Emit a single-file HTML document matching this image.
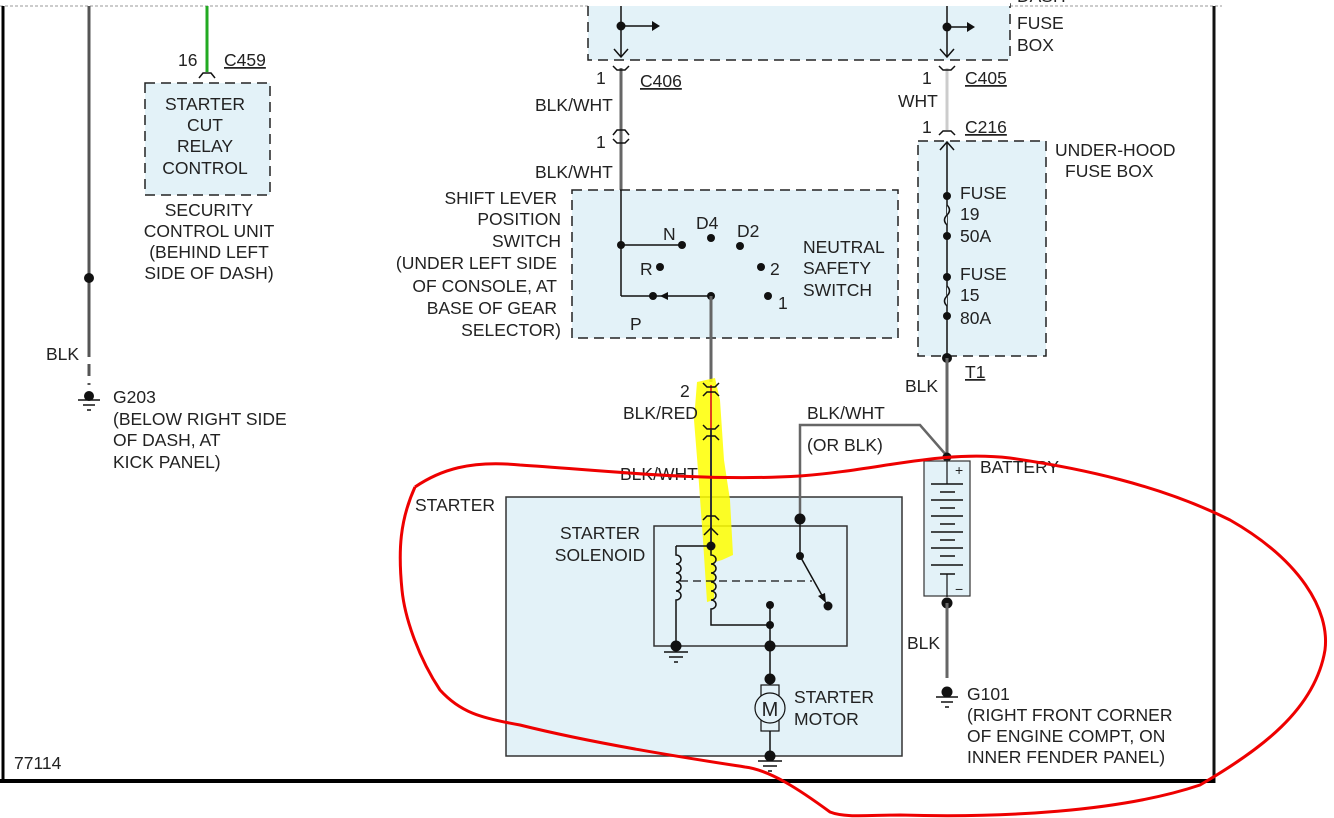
<!DOCTYPE html>
<html><head><meta charset="utf-8"><style>
html,body{margin:0;padding:0;background:#fff;}
svg{display:block;}
text{font-family:"Liberation Sans",sans-serif;font-size:17.5px;fill:#222;}
</style></head><body>
<svg width="1334" height="818" viewBox="0 0 1334 818" xmlns="http://www.w3.org/2000/svg">
<rect width="1334" height="818" fill="#fff"/>
<!-- border -->
<line x1="0" y1="6" x2="1222" y2="6" stroke="#ccc" stroke-width="2" stroke-dasharray="3 2"/>
<line x1="3" y1="6" x2="3" y2="781" stroke="#000" stroke-width="3"/>
<line x1="1214" y1="6" x2="1214" y2="783" stroke="#111" stroke-width="3"/>
<line x1="0" y1="781" x2="1215" y2="781" stroke="#000" stroke-width="4"/>

<!-- left ground wire -->
<line x1="89" y1="6" x2="89" y2="345" stroke="#555" stroke-width="3"/>
<line x1="89" y1="345" x2="89" y2="385" stroke="#555" stroke-width="3" stroke-dasharray="12 7"/>
<circle cx="89" cy="278" r="5" fill="#111"/>
<text x="46" y="360">BLK</text>
<circle cx="89" cy="396" r="5" fill="#111"/>
<line x1="78" y1="400" x2="100" y2="400" stroke="#111" stroke-width="1.5"/>
<line x1="83" y1="405" x2="95" y2="405" stroke="#111" stroke-width="1.5"/>
<line x1="87" y1="410" x2="91" y2="410" stroke="#111" stroke-width="1.5"/>
<text x="113" y="403">G203</text>
<text x="113" y="425">(BELOW RIGHT SIDE</text>
<text x="113" y="446">OF DASH, AT</text>
<text x="113" y="468">KICK PANEL)</text>

<!-- security control unit -->
<line x1="207" y1="6" x2="207" y2="72" stroke="#2a2" stroke-width="3"/>
<path d="M199 78 L203 73 L211 73 L215 78" fill="none" stroke="#111" stroke-width="1.5"/>
<text x="178" y="66">16</text>
<text x="224" y="66" text-decoration="underline">C459</text>
<rect x="145" y="83" width="125" height="112" fill="#e3f2f8" stroke="#222" stroke-width="1.5" stroke-dasharray="10 6"/>
<text x="205" y="110" text-anchor="middle">STARTER</text>
<text x="205" y="131" text-anchor="middle">CUT</text>
<text x="205" y="152" text-anchor="middle">RELAY</text>
<text x="205" y="174" text-anchor="middle">CONTROL</text>
<text x="209" y="216" text-anchor="middle">SECURITY</text>
<text x="209" y="237" text-anchor="middle">CONTROL UNIT</text>
<text x="209" y="258" text-anchor="middle">(BEHIND LEFT</text>
<text x="209" y="279" text-anchor="middle">SIDE OF DASH)</text>

<!-- dash fuse box -->
<rect x="588" y="4" width="422" height="56" fill="#e3f2f8" stroke="#222" stroke-width="1.5" stroke-dasharray="10 6"/>
<rect x="588" y="0" width="422" height="6" fill="#fff"/>
<line x1="621" y1="6" x2="621" y2="57" stroke="#111" stroke-width="1.5"/>
<circle cx="621" cy="26" r="4.5" fill="#111"/>
<line x1="621" y1="26" x2="655" y2="26" stroke="#111" stroke-width="1.5"/>
<path d="M652 21 L660 26 L652 31Z" fill="#111"/>
<path d="M614 49 L621 57 L628 49" fill="none" stroke="#111" stroke-width="1.5"/>
<line x1="947" y1="6" x2="947" y2="57" stroke="#111" stroke-width="1.5"/>
<circle cx="947" cy="27" r="4.5" fill="#111"/>
<line x1="947" y1="27" x2="970" y2="27" stroke="#111" stroke-width="1.5"/>
<path d="M967 22 L975 27 L967 32Z" fill="#111"/>
<path d="M940 49 L947 57 L954 49" fill="none" stroke="#111" stroke-width="1.5"/>
<text x="1017" y="2">DASH</text>
<text x="1017" y="29">FUSE</text>
<text x="1017" y="51">BOX</text>

<!-- left column wire -->
<line x1="621" y1="68" x2="621" y2="245" stroke="#666" stroke-width="3"/>
<path d="M613 66 L617 70 L625 70 L629 66" fill="none" stroke="#111" stroke-width="1.5"/>
<text x="596" y="84">1</text>
<text x="640" y="87" text-decoration="underline">C406</text>
<text x="535" y="111">BLK/WHT</text>
<path d="M613 135 L617 130 L625 130 L629 135" fill="none" stroke="#111" stroke-width="1.5"/>
<path d="M613 139 L617 143 L625 143 L629 139" fill="none" stroke="#111" stroke-width="1.5"/>
<text x="596" y="148">1</text>
<text x="535" y="178">BLK/WHT</text>

<!-- right column -->
<line x1="947" y1="68" x2="947" y2="130" stroke="#ccc" stroke-width="3"/>
<path d="M939 66 L943 70 L951 70 L955 66" fill="none" stroke="#111" stroke-width="1.5"/>
<text x="922" y="84">1</text>
<text x="965" y="84" text-decoration="underline">C405</text>
<text x="898" y="107">WHT</text>
<path d="M939 135 L943 131 L951 131 L955 135" fill="none" stroke="#111" stroke-width="1.5"/>
<text x="922" y="133">1</text>
<text x="965" y="133" text-decoration="underline">C216</text>
<rect x="918" y="141" width="128" height="215" fill="#e3f2f8" stroke="#222" stroke-width="1.5" stroke-dasharray="10 6"/>
<line x1="947" y1="142" x2="947" y2="358" stroke="#111" stroke-width="1.5"/>
<path d="M940 150 L947 142 L954 150" fill="none" stroke="#111" stroke-width="1.5"/>
<circle cx="947" cy="196" r="4" fill="#111"/>
<path d="M947 205 q5 5 0 10 q-5 5 0 10" fill="#e3f2f8" stroke="#111" stroke-width="1.5"/>
<circle cx="947" cy="236" r="4" fill="#111"/>
<circle cx="947" cy="277" r="4" fill="#111"/>
<path d="M947 286 q5 5 0 10 q-5 5 0 10" fill="#e3f2f8" stroke="#111" stroke-width="1.5"/>
<circle cx="947" cy="316" r="4" fill="#111"/>
<text x="960" y="199">FUSE</text>
<text x="960" y="220">19</text>
<text x="960" y="242">50A</text>
<text x="960" y="280">FUSE</text>
<text x="960" y="301">15</text>
<text x="960" y="324">80A</text>
<text x="1055" y="156">UNDER-HOOD</text>
<text x="1065" y="177">FUSE BOX</text>
<circle cx="947" cy="358" r="5" fill="#111"/>
<text x="965" y="378" text-decoration="underline">T1</text>
<text x="905" y="392">BLK</text>
<line x1="947" y1="358" x2="947" y2="458" stroke="#666" stroke-width="3"/>

<!-- shift lever switch -->
<rect x="572" y="190" width="326" height="148" fill="#e3f2f8" stroke="#222" stroke-width="1.5" stroke-dasharray="10 6"/>
<line x1="621" y1="190" x2="621" y2="296" stroke="#111" stroke-width="1.5"/>
<line x1="621" y1="245" x2="682" y2="245" stroke="#111" stroke-width="1.5"/>
<line x1="621" y1="296" x2="711" y2="296" stroke="#111" stroke-width="1.5"/>
<path d="M660 296 L668 292 L668 300Z" fill="#111"/>
<circle cx="621" cy="245" r="4" fill="#111"/>
<circle cx="682" cy="245" r="4" fill="#111"/>
<circle cx="711" cy="238" r="4" fill="#111"/>
<circle cx="740" cy="246" r="4" fill="#111"/>
<circle cx="660" cy="267" r="4" fill="#111"/>
<circle cx="761" cy="267" r="4" fill="#111"/>
<circle cx="768" cy="296" r="4" fill="#111"/>
<circle cx="653" cy="296" r="4" fill="#111"/>
<circle cx="711" cy="296" r="4" fill="#111"/>
<text x="663" y="240">N</text>
<text x="696" y="229">D4</text>
<text x="737" y="237">D2</text>
<text x="640" y="275">R</text>
<text x="770" y="275">2</text>
<text x="778" y="309">1</text>
<text x="630" y="330">P</text>
<text x="803" y="253">NEUTRAL</text>
<text x="803" y="274">SAFETY</text>
<text x="803" y="296">SWITCH</text>
<text x="557" y="204" text-anchor="end">SHIFT LEVER</text>
<text x="561" y="225" text-anchor="end">POSITION</text>
<text x="561" y="247" text-anchor="end">SWITCH</text>
<text x="557" y="269" text-anchor="end">(UNDER LEFT SIDE</text>
<text x="557" y="292" text-anchor="end">OF CONSOLE, AT</text>
<text x="557" y="314" text-anchor="end">BASE OF GEAR</text>
<text x="561" y="336" text-anchor="end">SELECTOR)</text>
<line x1="711" y1="296" x2="711" y2="382" stroke="#666" stroke-width="3"/>

<!-- starter -->
<rect x="506" y="497" width="396" height="259" fill="#e3f2f8" stroke="#333" stroke-width="1.5"/>
<rect x="654" y="526" width="193" height="120" fill="none" stroke="#333" stroke-width="1.5"/>
<text x="415" y="511">STARTER</text>
<text x="600" y="539" text-anchor="middle">STARTER</text>
<text x="600" y="561" text-anchor="middle">SOLENOID</text>
<!-- yellow highlight -->
<path d="M697 382 L715 378 L720 400 L724 460 L730 500 L733 555 L722 560 L715 562 L714 600 L707 602 L703 540 L698 470 L694 420Z" fill="#ff0" opacity="0.85"/>
<line x1="711" y1="385" x2="711" y2="430" stroke="#e04020" stroke-width="2"/>
<line x1="711" y1="430" x2="711" y2="546" stroke="#333" stroke-width="2"/>
<path d="M703 383 L707 387 L715 387 L719 383" fill="none" stroke="#111" stroke-width="1.5"/>
<path d="M703 396 L707 392 L715 392 L719 396" fill="none" stroke="#111" stroke-width="1.5"/>
<text x="680" y="397">2</text>
<text x="623" y="419">BLK/RED</text>
<path d="M703 425 L707 429 L715 429 L719 425" fill="none" stroke="#111" stroke-width="1.5"/>
<path d="M703 440 L707 436 L715 436 L719 440" fill="none" stroke="#111" stroke-width="1.5"/>
<text x="620" y="480">BLK/WHT</text>
<path d="M703 520 L707 516 L715 516 L719 520" fill="none" stroke="#111" stroke-width="1.5"/>
<path d="M704 535 L711 528 L718 535" fill="none" stroke="#111" stroke-width="1.5"/>
<circle cx="711" cy="546" r="4.5" fill="#111"/>
<line x1="676" y1="546" x2="711" y2="546" stroke="#111" stroke-width="1.5"/>
<path d="M711 546 L711 555 a5 4.5 0 0 1 0 9 a5 4.5 0 0 1 0 9 a5 4.5 0 0 1 0 9 a5 4.5 0 0 1 0 9 a5 4.5 0 0 1 0 9 a5 4.5 0 0 1 0 9 L711 625 L770 625" fill="none" stroke="#111" stroke-width="1.5"/>
<path d="M676 546 L676 555 a5 4.5 0 0 1 0 9 a5 4.5 0 0 1 0 9 a5 4.5 0 0 1 0 9 a5 4.5 0 0 1 0 9 a5 4.5 0 0 1 0 9 L676 646" fill="none" stroke="#111" stroke-width="1.5"/>
<line x1="680" y1="581" x2="812" y2="581" stroke="#111" stroke-width="1.2" stroke-dasharray="8 5"/>
<circle cx="676" cy="646" r="5.5" fill="#111"/>
<line x1="664" y1="652" x2="688" y2="652" stroke="#111" stroke-width="1.5"/>
<line x1="669" y1="657" x2="683" y2="657" stroke="#111" stroke-width="1.5"/>
<line x1="674" y1="662" x2="678" y2="662" stroke="#111" stroke-width="1.5"/>
<!-- switch -->
<polyline points="800,519 800,425 920,425 947,456" fill="none" stroke="#666" stroke-width="2.5"/>
<text x="807" y="419">BLK/WHT</text>
<text x="807" y="451">(OR BLK)</text>
<circle cx="800" cy="519" r="5.5" fill="#111"/>
<line x1="800" y1="519" x2="800" y2="556" stroke="#111" stroke-width="1.5"/>
<circle cx="800" cy="556" r="4" fill="#111"/>
<line x1="800" y1="556" x2="824" y2="599" stroke="#111" stroke-width="1.5"/>
<path d="M826 603 L818 596 L825 593Z" fill="#111"/>
<circle cx="828" cy="606" r="4.5" fill="#111"/>
<circle cx="770" cy="605" r="4" fill="#111"/>
<line x1="770" y1="605" x2="770" y2="752" stroke="#111" stroke-width="1.5"/>
<circle cx="770" cy="625" r="4" fill="#111"/>
<circle cx="770" cy="646" r="5.5" fill="#111"/>
<circle cx="770" cy="679" r="5.5" fill="#111"/>
<rect x="761" y="685" width="18" height="46" fill="#e3f2f8" stroke="#111" stroke-width="1.2"/>
<circle cx="770" cy="708" r="15" fill="#e3f2f8" stroke="#111" stroke-width="1.2"/>
<text x="770" y="716" text-anchor="middle" style="font-size:20px">M</text>
<text x="794" y="703">STARTER</text>
<text x="794" y="725">MOTOR</text>
<circle cx="770" cy="756" r="5.5" fill="#111"/>
<line x1="758" y1="761" x2="782" y2="761" stroke="#111" stroke-width="1.5"/>
<line x1="763" y1="766" x2="777" y2="766" stroke="#111" stroke-width="1.5"/>
<line x1="768" y1="771" x2="772" y2="771" stroke="#111" stroke-width="1.5"/>

<!-- battery -->
<circle cx="947" cy="457" r="4.5" fill="#111"/>
<rect x="924" y="461" width="46" height="135" fill="#e3f2f8" stroke="#333" stroke-width="1.2"/>
<text x="955" y="475" style="font-size:14px">+</text>
<text x="955" y="594" style="font-size:14px">−</text>
<line x1="947" y1="461" x2="947" y2="484" stroke="#111" stroke-width="1.2"/>
<g stroke="#111" stroke-width="1.5">
<line x1="931" y1="484" x2="963" y2="484"/><line x1="940" y1="492" x2="955" y2="492"/>
<line x1="931" y1="500" x2="963" y2="500"/><line x1="940" y1="508" x2="955" y2="508"/>
<line x1="931" y1="516" x2="963" y2="516"/><line x1="940" y1="524" x2="955" y2="524"/>
<line x1="931" y1="532" x2="963" y2="532"/><line x1="940" y1="540" x2="955" y2="540"/>
<line x1="931" y1="548" x2="963" y2="548"/><line x1="940" y1="556" x2="955" y2="556"/>
<line x1="931" y1="565" x2="963" y2="565"/><line x1="940" y1="574" x2="955" y2="574"/>
</g>
<line x1="947" y1="574" x2="947" y2="597" stroke="#111" stroke-width="1.2"/>
<text x="980" y="473">BATTERY</text>
<circle cx="947" cy="603" r="5.5" fill="#111"/>
<line x1="947" y1="603" x2="947" y2="678" stroke="#666" stroke-width="3"/>
<text x="907" y="649">BLK</text>
<circle cx="947" cy="692" r="5.5" fill="#111"/>
<line x1="936" y1="697" x2="958" y2="697" stroke="#111" stroke-width="1.5"/>
<line x1="941" y1="702" x2="953" y2="702" stroke="#111" stroke-width="1.5"/>
<line x1="945" y1="707" x2="949" y2="707" stroke="#111" stroke-width="1.5"/>
<text x="967" y="700">G101</text>
<text x="967" y="721">(RIGHT FRONT CORNER</text>
<text x="967" y="742">OF ENGINE COMPT, ON</text>
<text x="967" y="763">INNER FENDER PANEL)</text>

<text x="14" y="769">77114</text>

<!-- red freehand -->
<path d="M415 487 C440 470 470 460 520 465 C600 470 700 482 800 476 C880 470 940 450 1010 458 C1080 468 1160 485 1230 520 C1300 560 1330 610 1325 650 C1315 710 1260 750 1200 785 C1120 812 1000 818 900 815 C870 815 845 818 830 812 C800 790 770 770 745 767 C700 760 600 745 520 725 C480 718 460 712 440 690 C420 660 405 620 402 590 C398 550 400 520 415 487" fill="none" stroke="#e00" stroke-width="3"/>
</svg>
</body></html>
